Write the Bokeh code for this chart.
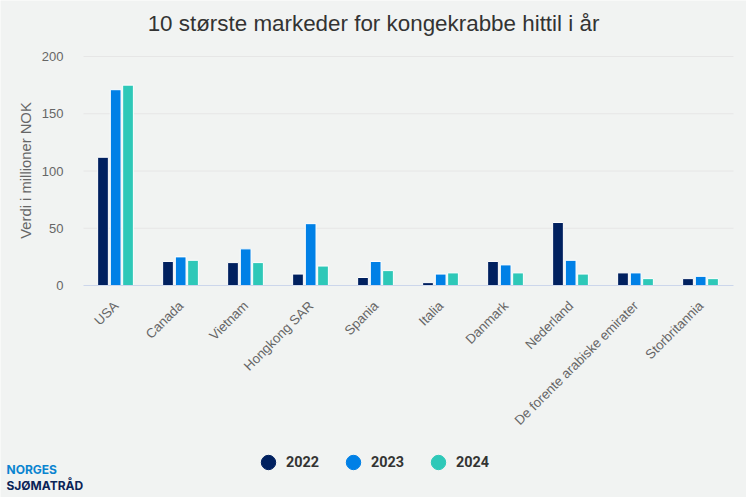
from math import pi, nan
from bokeh.plotting import figure
from bokeh.models import ColumnDataSource, Range1d, Label, Legend, LegendItem, FixedTicker, LinearAxis
from bokeh.embed import file_html
from bokeh.resources import INLINE

categories = ["USA", "Canada", "Vietnam", "Hongkong SAR", "Spania", "Italia", "Danmark",
              "Nederland", "De forente arabiske emirater", "Storbritannia"]
values_2022 = [112, 21, 20, 10, 7, 2.5, 21, 55, 11, 6]
values_2023 = [171, 25, 32, 54, 21, 10, 18, 22, 11, 8]
values_2024 = [175, 22, 20, 17, 13, 11, 11, 10, 6, 6]
years = ["2022", "2023", "2024"]
y_ticks = [0, 50, 100, 150, 200]
title_text = "10 største markeder for kongekrabbe hittil i år"
y_title = "Verdi i millioner NOK"

W, H = 746, 497
BG = "#f1f3f2"
COLORS = ["#00205f", "#0080e6", "#2ec8b8"]
# plot box inside the canvas (pixels); the frame fills the canvas so nothing outside the box is clipped
LEFT, RIGHT, TOP, BOTTOM = 83, 733, 56, 285
x_px = (RIGHT - LEFT) / len(categories)
y_px = (BOTTOM - TOP) / (y_ticks[-1] - y_ticks[0])

p = figure(width=W, height=H, output_backend="svg", toolbar_location=None,
           x_axis_type=None, y_axis_type=None,
           x_range=Range1d(-LEFT / x_px, (W - LEFT) / x_px),
           y_range=Range1d(-(H - BOTTOM) / y_px, y_ticks[-1] + TOP / y_px),
           min_border=0, background_fill_color=BG, border_fill_color=BG, outline_line_color=None)
p.grid.visible = False

centers = [i + 0.5 for i in range(len(categories))]

p.segment(x0=[0] * (len(y_ticks) - 1), x1=[len(categories)] * (len(y_ticks) - 1),
          y0=y_ticks[1:], y1=y_ticks[1:], line_color="#e6e6e6", line_width=1)

renderers = []
for year, vals, col, off in zip(years, (values_2022, values_2023, values_2024), COLORS, (-0.2, -0.005, 0.185)):
    src = ColumnDataSource(dict(x=[c + off for c in centers], top=vals))
    p.vbar(x="x", top="top", bottom=0, width=0.165, source=src,
           fill_color=col, line_color="white", line_width=1)
    renderers.append(p.scatter(x=[centers[0]], y=[nan], marker="circle", size=15,
                               fill_color=col, line_color=col))

ax = LinearAxis(fixed_location=0, bounds=(0, len(categories)),
                ticker=FixedTicker(ticks=centers),
                major_label_overrides={c: n for c, n in zip(centers, categories)},
                axis_line_color="#ccd6eb", major_tick_line_color=None, minor_tick_line_color=None,
                major_label_orientation=pi / 4,
                major_label_text_font="Liberation Sans", major_label_text_font_size="13.3px",
                major_label_text_color="#666666", major_label_standoff=12)
p.add_layout(ax, "below")

ay = LinearAxis(fixed_location=0, ticker=FixedTicker(ticks=y_ticks),
                axis_line_color=None, major_tick_line_color=None, minor_tick_line_color=None,
                major_label_text_font="Liberation Sans", major_label_text_font_size="13px",
                major_label_text_color="#666666", major_label_standoff=14)
p.add_layout(ay, "left")

legend = Legend(items=[LegendItem(label=y, renderers=[r]) for y, r in zip(years, renderers)],
                orientation="horizontal", location=(250, 17),
                background_fill_alpha=0, border_line_color=None,
                glyph_width=36, glyph_height=36, label_standoff=0, spacing=16, padding=0, margin=0,
                label_text_font="Roboto", label_text_font_style="bold",
                label_text_font_size="14.4px", label_text_color="#333333")
p.add_layout(legend, "center")

p.add_layout(Label(x=373, y=H - 23, x_units="screen", y_units="screen", text=title_text,
                   text_font="Liberation Sans", text_font_size="22.4px", text_color="#333333",
                   text_align="center", text_baseline="middle"))
p.add_layout(Label(x=25, y=H - 170, x_units="screen", y_units="screen", text=y_title, angle=pi / 2,
                   text_font="Liberation Sans", text_font_size="14.8px", text_color="#666666",
                   text_align="center", text_baseline="middle"))
p.add_layout(Label(x=6, y=H - 469, x_units="screen", y_units="screen", text="NORGES",
                   text_font="Inter", text_font_size="12px", text_font_style="bold",
                   text_color="#0a84d0", text_align="left", text_baseline="alphabetic"))
p.add_layout(Label(x=6, y=H - 485, x_units="screen", y_units="screen", text="SJØMATRÅD",
                   text_font="Inter", text_font_size="12px", text_font_style="bold",
                   text_color="#0b2357", text_align="left", text_baseline="alphabetic"))

open("out.html", "w").write(file_html(p, INLINE))
